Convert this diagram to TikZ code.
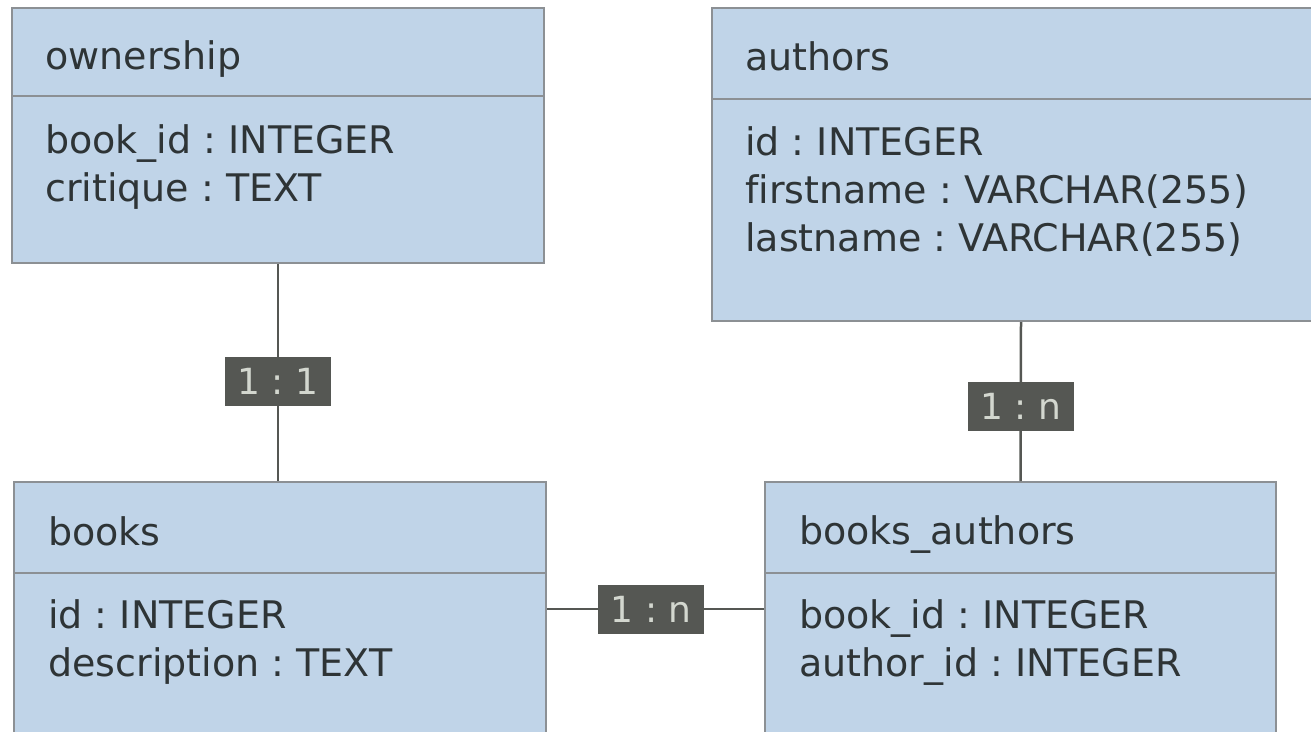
\documentclass[tikz,border=0pt]{standalone}
\usepackage{fontspec}
\setmainfont[Ligatures=NoCommon]{DejaVu Sans}
\definecolor{tblfill}{RGB}{192,212,232}
\definecolor{tbldraw}{RGB}{140,144,148}
\definecolor{txt}{RGB}{46,52,54}
\definecolor{connc}{RGB}{85,87,83}
\definecolor{lblfill}{RGB}{85,87,83}
\definecolor{lbltxt}{RGB}{211,215,207}
\tikzset{
  tbl/.style={draw=tbldraw, fill=tblfill, line width=2pt, anchor=north west, inner sep=0pt},
  divider/.style={draw=tbldraw, line width=2pt},
  ttl/.style={anchor=base west, inner sep=0pt, text=txt, font=\fontsize{38pt}{48pt}\selectfont},
  attr/.style={anchor=base west, inner sep=0pt, text=txt, font=\fontsize{38pt}{48pt}\selectfont},
  conn/.style={draw=connc, line width=2.5pt},
  lbl/.style={fill=lblfill, text=lbltxt, inner sep=0pt, minimum width=106pt, minimum height=49pt, font=\fontsize{36pt}{40pt}\selectfont}
}
\begin{document}
\frenchspacing
\begin{tikzpicture}[x=1pt,y=-1pt]
\useasboundingbox (0,0) rectangle (1311,731);
\clip (0,0) rectangle (1311,731);
% tables
\node[tbl, minimum width=532pt, minimum height=255pt] (own) at (11,7) {};
\node[tbl, minimum width=618pt, minimum height=313pt] (auth) at (711,7) {};
\node[tbl, minimum width=532pt, minimum height=254pt] (books) at (13,481) {};
\node[tbl, minimum width=511pt, minimum height=254pt] (ba) at (764,481) {};
% dividers
\draw[divider] (own.west |- 0,96) -- (own.east |- 0,96);
\draw[divider] (auth.west |- 0,99) -- (auth.east |- 0,99);
\draw[divider] (books.west |- 0,573) -- (books.east |- 0,573);
\draw[divider] (ba.west |- 0,573) -- (ba.east |- 0,573);
% texts
\node[ttl] (own-t) at (45,69) {ownership};
\node[attr] (own-1) at (45,153) {book\_id : INTEGER};
\node[attr] (own-2) at (45,201) {critique : TEXT};
\node[ttl] (auth-t) at (745,70) {authors};
\node[attr] (auth-1) at (745,155) {id : INTEGER};
\node[attr] (auth-2) at (745,203) {firstname : VARCHAR(255)};
\node[attr] (auth-3) at (745,251) {lastname : VARCHAR(255)};
\node[ttl] (books-t) at (48,545) {books};
\node[attr] (books-1) at (48,628) {id : INTEGER};
\node[attr] (books-2) at (48,676) {description : TEXT};
\node[ttl] (ba-t) at (799,544) {books\_authors};
\node[attr] (ba-1) at (799,628) {book\_id : INTEGER};
\node[attr] (ba-2) at (799,676) {author\_id : INTEGER};
% connectors
\draw[conn] (own.south) -- node[lbl, pos=0.54] (l1) {1 : 1} (own.south |- books.north);
\draw[conn] (auth.south) -- node[lbl, pos=0.53] (l2) {1 : n} (ba.north);
\draw[conn] (books.east) -- node[lbl, pos=0.48] (l3) {1 : n} (ba.west);
\end{tikzpicture}
\end{document}
